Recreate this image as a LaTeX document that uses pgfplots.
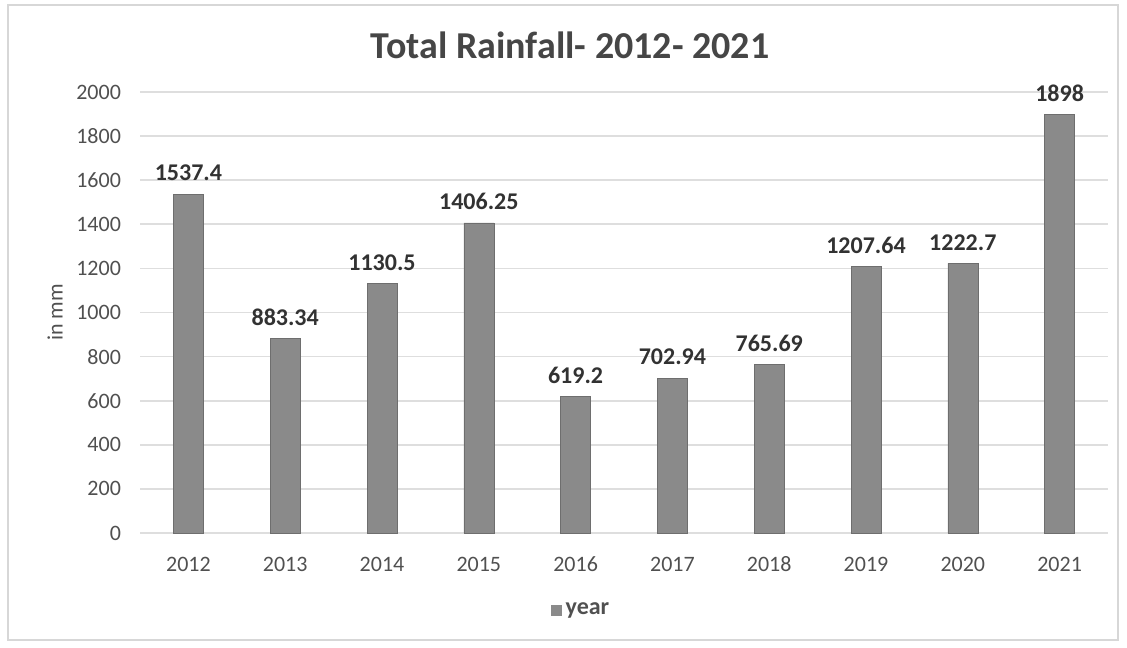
\documentclass[border=0pt]{standalone}
\usepackage{pgfplots}
\pgfplotsset{compat=1.18}
\usepackage{fontspec}
\setmainfont{Carlito}
\definecolor{barc}{RGB}{138,138,138}
\definecolor{bard}{RGB}{110,110,110}
\definecolor{gridc}{RGB}{222,222,222}
\definecolor{tickc}{RGB}{80,80,80}
\definecolor{labc}{RGB}{50,50,50}
\begin{document}
\begin{tikzpicture}
\useasboundingbox (-70pt,-57pt) rectangle (493.5pt,266.5pt);
\draw[draw={rgb,255:red,215;green,215;blue,215}, line width=1pt] (-66pt,-53.5pt) rectangle (489pt,264pt);
\begin{axis}[
  at={(0,0)}, anchor=south west,
  scale only axis,
  width=484pt, height=220.5pt,
  xmin=-0.5, xmax=9.5, ymin=0, ymax=2000,
  ytick={0,200,...,2000},
  xtick={0,...,9},
  xticklabels={2012,2013,2014,2015,2016,2017,2018,2019,2020,2021},
  axis line style={draw=none},
  axis x line*=bottom, axis y line*=left,
  x axis line style={draw=gridc, line width=0.8pt},
  y axis line style={draw=none},
  major tick length=0pt,
  ymajorgrids, grid style={draw=gridc, line width=0.8pt},
  tick label style={font=\fontsize{11}{12}\selectfont, text=tickc},
  /pgf/number format/assume math mode=true,
  /pgf/number format/1000 sep={},
  yticklabel style={xshift=-6pt},
  xticklabel style={anchor=base, yshift=-19pt},
  ylabel={in mm},
  ylabel style={at={(axis description cs:-0.0878,0.5)}, anchor=center, font=\fontsize{11}{12}\selectfont, text=tickc},
  legend style={at={(axis description cs:0.4566,-0.1746)}, anchor=center, draw=none, fill=none, font=\bfseries\fontsize{12}{14}\selectfont, text=tickc, inner sep=0pt},
  legend image code/.code={\fill[barc] (0cm,-0.09cm) rectangle (0.18cm,0.09cm);},
  nodes near coords,
  point meta=explicit symbolic,
  every node near coord/.append style={font=\bfseries\fontsize{12}{14}\selectfont, text=labc, yshift=3pt},
  clip=false,
]
\addplot[ybar, bar width=15pt, fill=barc, draw=bard, line width=0.3pt] table[meta=lab] {
x y lab
0 1537.4 1537.4
1 883.34 883.34
2 1130.5 1130.5
3 1406.25 1406.25
4 619.2 619.2
5 702.94 702.94
6 765.69 765.69
7 1207.64 1207.64
8 1222.7 1222.7
9 1898 1898
};
\addlegendentry{year}
\end{axis}
\node[font=\bfseries\fontsize{19}{22}\selectfont, text={rgb,255:red,70;green,70;blue,70}] at (215pt,244pt) {Total Rainfall- 2012- 2021};
\end{tikzpicture}
\end{document}
